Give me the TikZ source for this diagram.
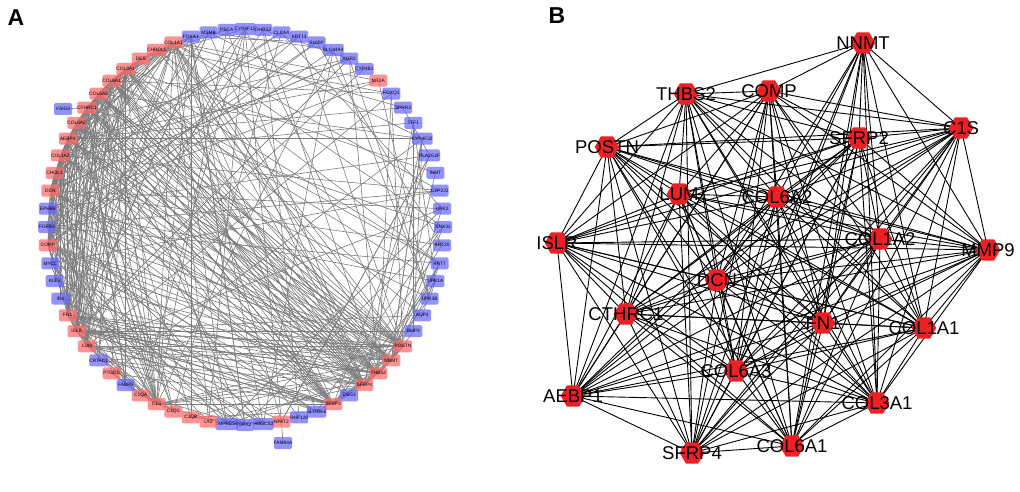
\documentclass[tikz,border=0pt]{standalone}
\usepackage{fontspec}
\setmainfont{Liberation Sans}
\usetikzlibrary{shapes.geometric,backgrounds}
\definecolor{redA}{RGB}{255,105,105}
\definecolor{blueA}{RGB}{105,105,255}
\definecolor{edgeA}{RGB}{125,125,125}
\definecolor{redB}{RGB}{238,32,36}
\tikzset{
 anode/.style={draw=none, rounded corners=1.5pt, minimum width=18pt, minimum height=12pt, inner sep=0pt,
   font=\fontsize{4.8}{5}\selectfont, fill opacity=0.72, text opacity=1},
 aedge/.style={draw=edgeA, line width=0.6pt},
 bnode/.style={regular polygon, regular polygon sides=6, fill=redB, draw=none, minimum size=24.5pt, inner sep=0pt},
 blabel/.style={font=\fontsize{18.5}{20}\selectfont, inner sep=0pt},
 bedge/.style={draw=black, line width=0.9pt},
 panel/.style={font=\fontsize{23}{24}\selectfont\bfseries, inner sep=0pt}
}
\begin{document}
\begin{tikzpicture}[x=1pt,y=1pt]
\useasboundingbox (0,0) rectangle (1020,491);
\node[panel] (pA) at (16,473) {A};
\node[panel] (pB) at (557,475) {B};
% ---------- Panel A nodes ----------
\foreach \i/\t/\c in {1/FOXA1/blueA,2/MSMB/blueA,3/PSCA/blueA,4/CYP4F12/blueA,5/DHRS2/blueA,6/CLCA4/blueA,
 7/KRT13/blueA,8/S100P/blueA,9/SLC44A4/blueA,10/AGR2/blueA,11/CYP4B1/blueA,12/MT2A/redA,13/FOXQ1/blueA,
 14/SPRR3/blueA,15/TFF1/blueA,16/CYP4F22/blueA,17/PLA2G2F/blueA,18/INMT/blueA,19/CYP2J2/blueA,20/UPK2/blueA,
 21/SNX31/blueA,22/KRT20/blueA,23/KRT7/blueA,24/UPK1A/blueA,25/UPK3B/blueA,26/AQP3/blueA,27/BMP3/blueA,
 28/POSTN/redA,29/NNMT/redA,30/THBS2/redA,31/SFRP4/redA,32/DSG3/blueA,33/SFRP2/redA,34/SLITRK6/blueA,
 35/RNF128/blueA,36/NFAT2/redA,37/HMGCS2/blueA,38/GPX2/blueA,39/TMPRSS4/blueA,40/LYZ/redA,41/C1QB/redA,
 42/C1QC/redA,43/C1S/redA,44/C1QA/redA,45/FABP6/blueA,46/PTGDS/redA,47/CRTAC1/blueA,48/LUM/redA,49/ISLR/redA,
 50/FN1/redA,51/ID4/blueA,52/KLF5/blueA,53/MYCL/blueA,54/COMP/redA,55/FGFR3/blueA,56/EPHB6/blueA,57/DCN/redA,
 58/CHI3L1/redA,59/COL1A2/redA,60/AEBP1/redA,61/COL6A2/redA,62/CTHRC1/redA,63/COL6A3/redA,64/COL6A1/redA,
 65/COL3A1/redA,66/DES/redA,67/CHRDL1/redA,68/COL1A1/redA} {
  \pgfmathsetmacro{\ang}{111.1765-\i*5.294118}
  \pgfmathsetmacro{\px}{245+198*cos(\ang)}
  \pgfmathsetmacro{\py}{264+198*sin(\ang)}
  \node[anode, fill=\c] (a\i) at (\px,\py) {\t};
}
\node[anode, fill=blueA] (vsig) at (63,382) {VSIG2};
\node[anode, fill=blueA] (fam) at (283,48) {FAM84A};
\begin{pgfonlayer}{background}
 \draw[aedge] (vsig.center) -- (a62.center);
 \draw[aedge] (fam.center) -- (a36.center);
 % hub genes: all pairs
 \foreach \u [count=\ui] in {28,29,30,31,33,43,48,49,50,54,57,59,60,61,62,63,64,65,68} {
   \foreach \v [count=\vi] in {28,29,30,31,33,43,48,49,50,54,57,59,60,61,62,63,64,65,68} {
     \ifnum\vi>\ui \draw[aedge] (a\u.center) -- (a\v.center); \fi
   }
 }
 \pgfmathsetseed{4242}
 % hubs to other genes
 \foreach \u in {28,29,30,31,33,43,48,49,50,54,57,59,60,61,62,63,64,65,68} {
   \foreach \k in {1,...,8} {
     \pgfmathrandominteger{\q}{1}{68}
     \draw[aedge] (a\u.center) -- (a\q.center);
   }
 }
 % other interactions
 \foreach \k in {1,...,110} {
   \pgfmathrandominteger{\p}{1}{68}
   \pgfmathrandominteger{\q}{1}{68}
   \draw[aedge] (a\p.center) -- (a\q.center);
 }
\end{pgfonlayer}
% ---------- Panel B ----------
\foreach \n/\x/\y in {NNMT/863/448,THBS2/686/397,COMP/769/400,SFRP2/859/353,C1S/961/363,POSTN/607/344,
 LUM/679/297,COL6A2/777/294,ISLR/557/248,COL1A2/880/252,MMP9/988/241,DCN/717/211,CTHRC1/626/177,
 FN1/823/168,COL1A1/924/163,COL6A3/736/120,AEBP1/573/95,COL3A1/877/88,COL6A1/792/45,SFRP4/692/38} {
  \node[bnode] (b\n) at (\x,\y) {};
  \node[blabel] (l\n) at (\x,\y) {\n};
}
\begin{pgfonlayer}{background}
 \foreach \v in {THBS2,COMP,SFRP2,C1S,COL6A2,COL1A2,MMP9,DCN,FN1,COL1A1,COL6A3,COL3A1,COL6A1,SFRP4} {
   \draw[bedge] (bNNMT.center) -- (b\v.center);
 }
 \foreach \u [count=\ui] in {THBS2,COMP,SFRP2,C1S,POSTN,LUM,COL6A2,ISLR,COL1A2,MMP9,DCN,CTHRC1,FN1,COL1A1,COL6A3,AEBP1,COL3A1,COL6A1,SFRP4} {
   \foreach \v [count=\vi] in {THBS2,COMP,SFRP2,C1S,POSTN,LUM,COL6A2,ISLR,COL1A2,MMP9,DCN,CTHRC1,FN1,COL1A1,COL6A3,AEBP1,COL3A1,COL6A1,SFRP4} {
     \ifnum\vi>\ui \draw[bedge] (b\u.center) -- (b\v.center); \fi
   }
 }
\end{pgfonlayer}
\end{tikzpicture}
\end{document}
